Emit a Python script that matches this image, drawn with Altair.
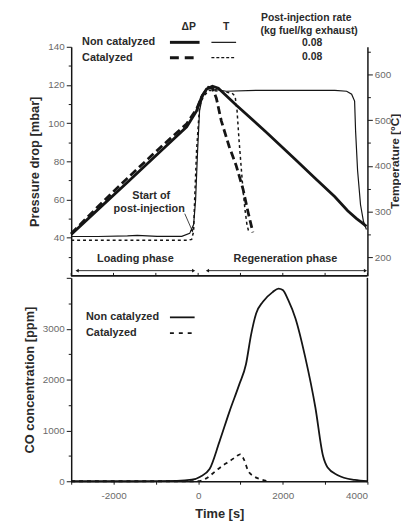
import altair as alt
import pandas as pd

# ---------------- data ----------------
# Pressure drop [mbar] vs time [s]
dp_nc_t = [-3000, -2370, -1670, -970, -270, -37, 80, 197, 337, 477, 897, 1597, 2297, 2763, 3230, 3533, 3743, 3860, 3977]
dp_nc_v = [41.7, 54.7, 69.1, 83.6, 98.1, 106.4, 113.6, 117.8, 119.3, 118.3, 109.5, 95.5, 81.0, 71.2, 61.4, 54.1, 50.0, 48.0, 45.9]
dp_c_t = [-3000, -2370, -1670, -970, -270, -37, 103, 243, 337, 430, 547, 733, 897, 1060, 1177, 1293]
dp_c_v = [42.2, 56.2, 71.2, 85.7, 99.7, 107.4, 114.7, 118.8, 118.3, 113.1, 101.2, 87.8, 77.9, 65.5, 53.6, 42.8]

# Temperature [°C] vs time [s]
t_nc_t = [-3000, -2370, -1670, -1437, -970, -387, -200, -107, -60, -13, 33, 103, 220, 383, 663, 1363,
          2297, 3230, 3510, 3627, 3697, 3720, 3767, 3837, 3907, 3977]
t_nc_v = [246, 246, 247.3, 248.4, 246.2, 246.2, 252.7, 272, 326, 433.7, 520, 552.2, 569.5, 567.3, 563, 565,
          565, 565, 563, 556.6, 541.5, 476.8, 390.6, 315.2, 278.5, 261.3]
t_c_t = [-3000, -270, -153, -107, -83, -37, 33, 127, 267, 547, 803, 873, 920, 967, 1013, 1060, 1107, 1153, 1200]
t_c_v = [237.6, 237.6, 239.7, 257, 326, 433.7, 530.7, 552.2, 565.2, 563, 558.7, 552.2, 519.9, 455.3, 401.4,
         347.5, 304.4, 272.1, 254.8]

# CO concentration [ppm] vs time [s]
co_nc_t = [-3000, -1500, -500, -150, 50, 270, 500, 740, 970, 1130, 1250, 1370, 1530, 1760, 1900, 2000,
           2130, 2300, 2530, 2770, 2950, 3060, 3300, 3700, 4000]
co_nc_v = [0, 0, 8, 30, 90, 240, 770, 1370, 1900, 2300, 2880, 3300, 3530, 3720, 3790, 3760,
           3560, 3200, 2440, 1450, 500, 270, 120, 25, 0]
co_c_t = [-3000, -37, 197, 430, 617, 733, 897, 990, 1083, 1177, 1317, 1480, 1667]
co_c_v = [0, 0, 58, 214, 330, 388, 486, 530, 427, 214, 97, 39, 0]

# axis ticks
time_ticks = [-3000, -2000, -1000, 0, 1000, 2000, 3000, 4000]
dp_ticks = [30, 40, 50, 60, 70, 80, 90, 100, 110, 120, 130, 140]
temp_ticks = [200, 250, 300, 350, 400, 450, 500, 550, 600, 650]
co_ticks = [0, 500, 1000, 1500, 2000, 2500, 3000, 3500, 4000]

# ---------------- styling ----------------
FONT = "Liberation Sans"
INK = "#151515"
TXT = "#2a2a2a"
LBL = "#6a6a6a"
W, H1, H2 = 300, 232, 206
X_SCALE = alt.Scale(domain=[-3000, 4000], nice=False, zero=False)


def frame(t, v):
    return pd.DataFrame({"t": t, "v": v})


one = alt.Data(values=[{"k": 0}])


def text(s, x, y, align="center", size=11, weight="bold", angle=0):
    return alt.Chart(one).mark_text(text=s, align=align, baseline="middle", font=FONT, angle=angle,
                                    fontSize=size, fontWeight=weight, color=TXT).encode(
        x=alt.value(x), y=alt.value(y))


def seg(x1, x2, y1, y2, width=1.0, dash=None):
    kw = dict(color=INK, strokeWidth=width)
    if dash:
        kw["strokeDash"] = dash
    return alt.Chart(one).mark_rule(**kw).encode(
        x=alt.value(x1), x2=alt.value(x2), y=alt.value(y1), y2=alt.value(y2))


def head(x, y, shape, angle=0, size=14):
    return alt.Chart(one).mark_point(shape=shape, filled=True, size=size, angle=angle,
                                     color=INK, opacity=1).encode(x=alt.value(x), y=alt.value(y))


xs = alt.X("t:Q", scale=X_SCALE, axis=None)

# ---------------- top panel ----------------
y_dp = alt.Y("v:Q", scale=alt.Scale(domain=[20, 140], nice=False, zero=False),
             axis=alt.Axis(orient="left", title="Pressure drop [mbar]", values=dp_ticks,
                           labelExpr="datum.value % 20 === 0 && datum.value >= 40 ? '' + datum.value : ''",
                           tickSize={"condition": {"test": "datum.value % 20 === 0", "value": 5}, "value": 3}))
dp_layer = alt.layer(
    alt.Chart(frame(dp_nc_t, dp_nc_v)).mark_line(color=INK, strokeWidth=2.8).encode(x=xs, y=y_dp),
    alt.Chart(frame(dp_c_t, dp_c_v)).mark_line(color=INK, strokeWidth=2.8, strokeDash=[8, 4]).encode(x=xs, y=y_dp),
)

y_t = alt.Y("v:Q", scale=alt.Scale(domain=[160, 660], nice=False, zero=False),
            axis=alt.Axis(orient="right", title="", values=temp_ticks,
                          labelExpr="datum.value % 100 === 0 ? '' + datum.value : ''",
                          tickSize={"condition": {"test": "datum.value % 100 === 0", "value": 5}, "value": 3}))
t_layer = alt.layer(
    alt.Chart(frame(t_nc_t, t_nc_v)).mark_line(color=INK, strokeWidth=1.2).encode(x=xs, y=y_t),
    alt.Chart(frame(t_c_t, t_c_v)).mark_line(color=INK, strokeWidth=1.5, strokeDash=[3, 3]).encode(x=xs, y=y_t),
)

top_ticks = alt.Chart(pd.DataFrame({"t": time_ticks})).mark_rule(color=INK, strokeWidth=1).encode(
    x=xs, y=alt.value(H1 - 3), y2=alt.value(H1))

top_notes = [
    seg(0, W, H1, H1, 2.0),
    top_ticks,
    # right axis title
    text("Temperature [°C]", W + 28, H1 / 2, size=12, angle=270),
    # legend
    text("Post-injection rate", 238, -29, size=10.5),
    text("(kg fuel/kg exhaust)", 241, -15.5, size=10.5),
    text("ΔP", 119, -20, size=10.5),
    text("T", 157, -20, size=10.5),
    text("Non catalyzed", 11, -4.5, align="left"),
    text("Catalyzed", 11, 11, align="left"),
    seg(100, 130, -4.5, -4.5, 3.0),
    seg(100, 130, 11, 11, 3.0, [9, 6]),
    seg(142, 167, -4.5, -4.5, 1.2),
    seg(142, 167, 11, 11, 1.2, [3, 2]),
    text("0.08", 244, -3.5, size=10.5),
    text("0.08", 244, 10, size=10.5),
    # annotation
    text("Start of", 81, 151),
    text("post-injection", 79, 164),
    seg(115, 122, 169, 185, 0.8),
    head(122.5, 186, "triangle", 156, 12),
    text("Loading phase", 65, 215),
    text("Regeneration phase", 217, 215),
    seg(6, 124, 226.7, 226.7, 0.9),
    head(6, 226.7, "triangle-left", 0, 14),
    head(124, 226.7, "triangle-right", 0, 14),
    seg(138, 298, 226.7, 226.7, 0.9),
    head(138, 226.7, "triangle-left", 0, 14),
    head(298, 226.7, "triangle-right", 0, 14),
]

top = alt.layer(dp_layer, t_layer, *top_notes).resolve_scale(y="independent").properties(width=W, height=H1)

# ---------------- bottom panel ----------------
x_bot = alt.X("t:Q", scale=X_SCALE,
              axis=alt.Axis(title="Time [s]", values=time_ticks,
                            labelExpr="datum.value % 2000 === 0 ? '' + datum.value : ''",
                            tickSize=3, labelPadding=6, titlePadding=8))
y_co = alt.Y("v:Q", scale=alt.Scale(domain=[0, 4000], nice=False),
             axis=alt.Axis(title="CO concentration [ppm]", values=co_ticks,
                           labelExpr="datum.value % 1000 === 0 && datum.value < 4000 ? '' + datum.value : ''",
                           tickSize={"condition": {"test": "datum.value % 1000 === 0", "value": 5}, "value": 3}))
co_layer = alt.layer(
    alt.Chart(frame(co_nc_t, co_nc_v)).mark_line(color=INK, strokeWidth=1.8, interpolate="monotone").encode(x=x_bot, y=y_co),
    alt.Chart(frame(co_c_t, co_c_v)).mark_line(color=INK, strokeWidth=1.8, strokeDash=[4, 4], interpolate="monotone").encode(x=x_bot, y=y_co),
)
bottom_notes = [
    seg(W, W, 0, H2, 1.5),
    text("Non catalyzed", 15, 40, align="left"),
    text("Catalyzed", 15, 56, align="left"),
    seg(100, 125, 40, 40, 1.8),
    seg(100, 125, 56, 56, 1.8, [4, 5]),
]
bottom = alt.layer(co_layer, *bottom_notes).properties(width=W, height=H2)

chart = alt.vconcat(top, bottom, spacing=0).properties(
    padding={"left": 15, "top": 2, "right": 0, "bottom": 0}
).configure_view(stroke=None).configure_axis(
    grid=False, labelFont=FONT, labelFontSize=10, labelColor=LBL, labelPadding=2,
    titleFont=FONT, titleFontSize=13, titleFontWeight="bold", titleColor=TXT, titlePadding=6,
    domainColor=INK, domainWidth=1.5, tickColor=INK, tickWidth=1,
)

chart.save("out.html", embed_options={"renderer": "svg", "actions": False})
